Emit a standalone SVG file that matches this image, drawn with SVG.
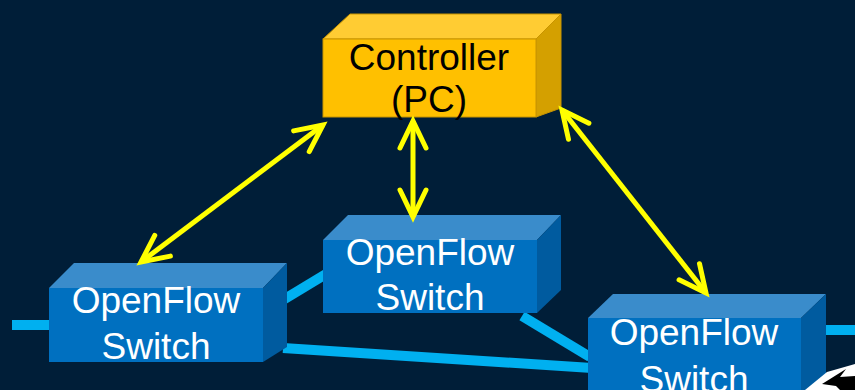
<svg xmlns="http://www.w3.org/2000/svg" width="855" height="390" viewBox="0 0 855 390">
  <defs>
    <style>
      .bg { fill: #001E38; }
      .link { stroke: #00B0F0; stroke-width: 10; fill: none; }
      .ctl-front { fill: #FFC000; stroke: #C89400; stroke-width: 1; }
      .ctl-top { fill: #FFCC33; stroke: #C89400; stroke-width: 1; }
      .ctl-side { fill: #D4A000; stroke: #C89400; stroke-width: 1; }
      .sw-front { fill: #0070C0; }
      .sw-top { fill: #3A8CCB; }
      .sw-side { fill: #005B9F; }
      .ctl-text { font-family: "Liberation Sans", Arial, sans-serif; font-size: 37px; fill: #000000; text-anchor: middle; }
      .sw-text { font-family: "Liberation Sans", Arial, sans-serif; font-size: 37px; fill: #FFFFFF; text-anchor: middle; }
      .ctrl-arrow { stroke: #FFFF00; stroke-width: 5; fill: none; marker-start: url(#ah); marker-end: url(#ah); }
    </style>
    <marker id="ah" markerUnits="userSpaceOnUse" markerWidth="40" markerHeight="40" viewBox="-32 -20 40 40" refX="0" refY="0" orient="auto-start-reverse" overflow="visible">
      <path d="M-27,-13 L0,0 L-27,13" fill="none" stroke="#FFFF00" stroke-width="5" stroke-linecap="round" stroke-linejoin="miter"/>
    </marker>
  </defs>

  <rect class="bg" x="0" y="0" width="855" height="390"/>

  <g id="connectors">
    <line class="link" x1="12" y1="325" x2="55" y2="325"/>
    <line class="link" x1="283" y1="300" x2="326" y2="274"/>
    <line class="link" x1="283" y1="348" x2="592" y2="368"/>
    <line class="link" x1="522" y1="316" x2="590" y2="357"/>
    <line class="link" x1="820" y1="330" x2="855" y2="330"/>
  </g>

  <g id="controller">
    <polygon class="ctl-top" points="323,39 350,14 561,14 536,39"/>
    <polygon class="ctl-side" points="536,39 561,14 561,108 536,117"/>
    <rect class="ctl-front" x="323" y="39" width="213" height="78"/>
    <text class="ctl-text" x="429" y="70">Controller</text>
    <text class="ctl-text" x="429" y="112">(PC)</text>
  </g>

  <g id="switch1">
    <polygon class="sw-top" points="49,288 74,263 287,263 263,288"/>
    <polygon class="sw-side" points="263,288 287,263 287,347 263,362"/>
    <rect class="sw-front" x="49" y="288" width="214" height="74"/>
    <text class="sw-text" x="156" y="313">OpenFlow</text>
    <text class="sw-text" x="156" y="359">Switch</text>
  </g>

  <g id="switch2">
    <polygon class="sw-top" points="323,240 348,215 561,215 537,240"/>
    <polygon class="sw-side" points="537,240 561,215 561,290 537,313"/>
    <rect class="sw-front" x="323" y="240" width="214" height="73"/>
    <text class="sw-text" x="430" y="265">OpenFlow</text>
    <text class="sw-text" x="430" y="310">Switch</text>
  </g>

  <g id="switch3">
    <polygon class="sw-top" points="588,318 613,294 826,294 801,318"/>
    <polygon class="sw-side" points="801,318 826,294 826,395 801,395"/>
    <rect class="sw-front" x="588" y="318" width="213" height="77"/>
    <text class="sw-text" x="694" y="345">OpenFlow</text>
    <text class="sw-text" x="694" y="392">Switch</text>
  </g>

  <g id="cursor">
    <polygon points="805,390 827,372 855,364 855,390" fill="#FFFFFF"/>
    <path d="M822,384 L846,369 L840,377 L855,376 L855,390 L840,390 L836,386 Z" fill="#000000"/>
  </g>

  <g id="controller-links">
    <line class="ctrl-arrow" x1="323" y1="125" x2="141" y2="262"/>
    <line class="ctrl-arrow" x1="413" y1="121" x2="413" y2="217"/>
    <line class="ctrl-arrow" x1="562" y1="110" x2="706" y2="293"/>
  </g>
</svg>
